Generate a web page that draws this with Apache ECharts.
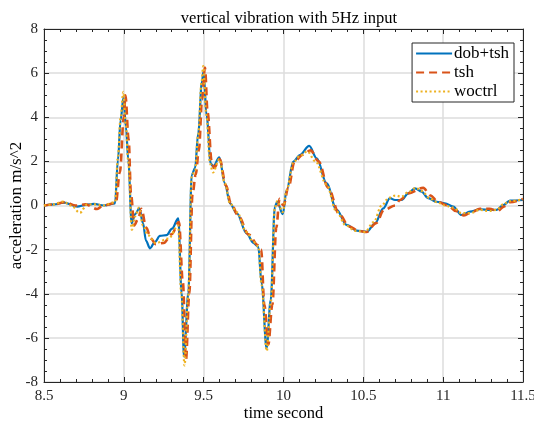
<!DOCTYPE html>
<html>
<head>
<meta charset="utf-8">
<script src="https://cdn.jsdelivr.net/npm/echarts@6/dist/echarts.min.js"></script>
<style>html,body{margin:0;padding:0;background:#fff}#c{width:534px;height:423px}</style>
</head>
<body>
<div id="c"></div>
<script>
const xTicks = [8.5, 9, 9.5, 10, 10.5, 11, 11.5];
const yTicks = [-8, -6, -4, -2, 0, 2, 4, 6, 8];

const dobTshX = [8.5,8.563,8.625,8.707,8.763,8.813,8.876,8.945,8.963,8.98,8.998,9.013,9.028,9.049,9.07,9.097,9.12,9.139,9.164,9.195,9.226,9.268,9.302,9.341,9.362,9.377,9.404,9.425,9.446,9.466,9.489,9.499,9.519,9.544,9.56,9.598,9.633,9.665,9.707,9.769,9.811,9.842,9.863,9.894,9.92,9.946,9.961,9.995,10.02,10.061,10.103,10.161,10.208,10.27,10.333,10.395,10.458,10.521,10.573,10.625,10.667,10.698,10.74,10.781,10.823,10.865,10.906,10.959,11.011,11.063,11.116,11.168,11.23,11.293,11.335,11.376,11.418,11.5];
const dobTshY = [0,0.05,0.13,-0.05,0.03,0.07,0.0,0.1,2.06,3.88,4.9,3.57,2.06,-0.81,-0.4,-0.13,-0.8,-1.6,-1.94,-1.65,-1.38,-1.34,-1.05,-0.58,-3.97,-6.85,-3.97,1.38,1.7,3.27,5.6,6.07,4.03,1.91,1.76,2.18,1.0,0.1,-0.35,-1.26,-1.69,-1.87,-3.53,-6.47,-4.28,-0.05,0.17,-0.39,0.7,1.99,2.29,2.7,2.14,1.0,-0.2,-0.88,-1.14,-1.19,-0.81,-0.13,0.33,0.25,0.25,0.55,0.78,0.63,0.33,0.17,0.1,-0.05,-0.43,-0.28,-0.17,-0.2,-0.2,0.02,0.22,0.25];

const tshX = [8.5,8.56,8.63,8.7,8.76,8.833,8.87,8.95,8.975,9.0,9.01,9.03,9.045,9.065,9.09,9.11,9.14,9.17,9.2,9.25,9.3,9.345,9.37,9.389,9.41,9.43,9.45,9.47,9.49,9.508,9.525,9.55,9.565,9.6,9.64,9.67,9.72,9.78,9.84,9.86,9.88,9.905,9.93,9.955,9.975,10.0,10.03,10.07,10.12,10.17,10.22,10.28,10.35,10.41,10.47,10.52,10.58,10.63,10.7,10.73,10.78,10.875,10.92,10.97,11.03,11.08,11.13,11.18,11.23,11.29,11.34,11.38,11.42,11.5];
const tshY = [0,0.05,0.15,0.0,0.05,-0.16,0.0,0.12,1.5,4.0,5.0,3.0,0.5,-0.9,-0.6,-0.15,-1.0,-1.5,-1.75,-1.7,-1.3,-0.75,-3.5,-7.0,-4.0,0.5,1.4,2.5,4.8,6.25,4.2,2.0,1.7,2.1,0.9,0.1,-0.5,-1.3,-1.8,-2.0,-4.5,-6.3,-4.5,-1.0,0.3,0.0,0.8,2.0,2.3,2.5,2.0,0.8,-0.4,-0.95,-1.15,-1.2,-0.8,-0.2,0.0,0.25,0.55,0.8,0.45,0.15,0.0,-0.25,-0.45,-0.3,-0.15,-0.15,-0.25,-0.05,0.15,0.3];

const woctrlX = [8.5,8.56,8.62,8.67,8.725,8.77,8.82,8.87,8.945,8.963,8.98,8.997,9.012,9.028,9.05,9.07,9.095,9.12,9.15,9.2,9.28,9.34,9.36,9.38,9.403,9.425,9.446,9.466,9.487,9.497,9.517,9.54,9.558,9.598,9.633,9.665,9.707,9.769,9.811,9.842,9.863,9.895,9.92,9.946,9.961,9.995,10.02,10.061,10.103,10.15,10.2,10.27,10.33,10.39,10.45,10.51,10.565,10.615,10.66,10.7,10.74,10.78,10.83,10.87,10.91,10.96,11.01,11.063,11.116,11.168,11.23,11.29,11.335,11.376,11.418,11.5];
const woctrlY = [0,0.05,0.18,0.0,-0.33,0.05,0.05,0.0,0.15,2.2,4.0,5.15,3.7,2.0,-1.1,-0.5,-0.1,-0.9,-1.34,-1.7,-1.5,-0.9,-4.0,-7.25,-4.1,1.3,1.6,3.2,5.6,6.32,4.1,1.9,1.5,2.1,1.0,0.1,-0.3,-1.2,-1.65,-1.85,-3.6,-6.6,-4.4,-0.1,0.2,-0.3,0.7,1.95,2.25,2.45,2.0,0.95,-0.25,-0.9,-1.15,-1.2,-0.75,0.0,0.35,0.45,0.4,0.6,0.8,0.65,0.35,0.15,0.0,-0.1,-0.35,-0.35,-0.2,-0.25,-0.2,0.05,0.2,0.28];

function pairs(xs, ys){ return xs.map((x,i)=>[x, ys[i]]); }

const serif = '"Liberation Serif", "DejaVu Serif", serif';
const chart = echarts.init(document.getElementById('c'), null, {renderer:'canvas'});

const axisBase = {
  type:'value',
  axisLine:{show:true, onZero:false, lineStyle:{color:'#262626', width:1}},
  axisTick:{show:true, inside:true, length:5, lineStyle:{color:'#262626'}},
};

chart.setOption({
  animation:false,
  backgroundColor:'#fff',
  title:{text:'vertical vibration with 5Hz input', left:284, top:5, textAlign:'center',
    textStyle:{fontFamily:serif, fontSize:16.5, fontWeight:'normal', color:'#000'}},
  legend:{
    right:20, top:43, orient:'vertical', align:'left',
    backgroundColor:'#fff', borderColor:'#262626', borderWidth:1,
    padding:[2,5,2,3], itemGap:2, itemWidth:36, itemHeight:17,
    itemStyle:{opacity:0},
    textStyle:{fontFamily:serif, fontSize:17, color:'#000', padding:[0,0,0,-3]},
    data:['dob+tsh','tsh','woctrl']
  },
  grid:{left:44, right:11, top:29, bottom:41, containLabel:false, outerBoundsMode:'none'},
  xAxis:[
    Object.assign({}, axisBase, {
      min:8.5, max:11.5, interval:0.5, position:'bottom',
      minorTick:{show:true, splitNumber:5, length:3, lineStyle:{color:'#262626'}},
      axisLabel:{show:true, margin:7, fontFamily:serif, fontSize:15, color:'#262626',
        formatter:v=>String(xTicks.find(t=>Math.abs(t-v)<1e-6) ?? v)},
      splitLine:{show:true, lineStyle:{color:'#dcdcdc', width:1.5}},
      name:'time second', nameLocation:'middle', nameGap:23, nameMoveOverlap:false,
      nameTextStyle:{fontFamily:serif, fontSize:16.5, color:'#000'}
    }),
    Object.assign({}, axisBase, {
      min:8.5, max:11.5, interval:0.5, position:'top',
      minorTick:{show:true, splitNumber:5, length:3, lineStyle:{color:'#262626'}},
      axisLabel:{show:false}, splitLine:{show:false}
    })
  ],
  yAxis:[
    Object.assign({}, axisBase, {
      min:-8, max:8, interval:2, position:'left',
      minorTick:{show:true, splitNumber:4, length:3, lineStyle:{color:'#262626'}},
      axisLabel:{show:true, margin:6, fontFamily:serif, fontSize:15, color:'#262626',
        formatter:v=>String(yTicks.find(t=>Math.abs(t-v)<1e-6) ?? v)},
      splitLine:{show:true, lineStyle:{color:'#dcdcdc', width:1.5}},
      name:'acceleration m/s^2', nameLocation:'middle', nameGap:19, nameRotate:90, nameMoveOverlap:false,
      nameTextStyle:{fontFamily:serif, fontSize:17, color:'#000'}
    }),
    Object.assign({}, axisBase, {
      min:-8, max:8, interval:2, position:'right',
      minorTick:{show:true, splitNumber:4, length:3, lineStyle:{color:'#262626'}},
      axisLabel:{show:false}, splitLine:{show:false}
    })
  ],
  series:[
    {name:'dob+tsh', type:'line', data:pairs(dobTshX, dobTshY), showSymbol:false, symbol:'none',
      smooth:0.35, smoothMonotone:'x', color:'#0072BD', lineStyle:{width:2.2, color:'#0072BD'}, z:2},
    {name:'tsh', type:'line', data:pairs(tshX, tshY), showSymbol:false, symbol:'none',
      smooth:0.35, smoothMonotone:'x', color:'#D95319', lineStyle:{width:2.6, color:'#D95319', type:[8,5]}, z:3},
    {name:'woctrl', type:'line', data:pairs(woctrlX, woctrlY), showSymbol:false, symbol:'none',
      smooth:0.35, smoothMonotone:'x', color:'#EDB120', lineStyle:{width:2.2, color:'#EDB120', type:[2,2.5]}, z:4}
  ]
});
</script>
</body>
</html>
